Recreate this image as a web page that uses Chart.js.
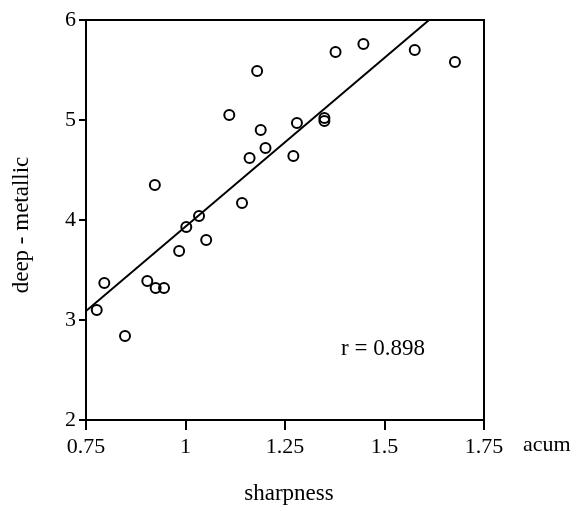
<!DOCTYPE html>
<html>
<head>
<meta charset="utf-8">
<script src="https://cdn.jsdelivr.net/npm/chart.js@4"></script>
<style>
  html, body { margin: 0; padding: 0; background: #fff; }
  #wrap { width: 577px; height: 511px; position: relative; }
</style>
</head>
<body>
<div id="wrap"><canvas id="c" width="577" height="511"></canvas></div>
<script>
// ---- data ----
const sharpness = [0.777, 0.796, 0.848, 0.904, 0.925, 0.946, 0.923, 0.984, 1.002, 1.034, 1.052, 1.110, 1.142, 1.161, 1.180, 1.189, 1.201, 1.271, 1.280, 1.349, 1.349, 1.377, 1.447, 1.576, 1.677];
const deepMetallic = [3.10, 3.37, 2.84, 3.39, 3.32, 3.32, 4.35, 3.69, 3.93, 4.04, 3.80, 5.05, 4.17, 4.62, 5.49, 4.90, 4.72, 4.64, 4.97, 5.02, 4.99, 5.68, 5.76, 5.70, 5.58];
const fitX = [0.75, 1.612];
const fitY = [3.09, 6.0];
const xTickLabels = ["0.75", "1", "1.25", "1.5", "1.75"];
const yTickLabels = ["2", "3", "4", "5", "6"];
const rText = "r = 0.898";
const xTitle = "sharpness";
const yTitle = "deep - metallic";
const xUnit = "acum";

const FONT = "'Liberation Serif', 'Times New Roman', serif";

const points = sharpness.map((x, i) => ({ x: x, y: deepMetallic[i] }));
const fitLine = fitX.map((x, i) => ({ x: x, y: fitY[i] }));

const extras = {
  id: 'extras',
  afterDraw(chart) {
    const ctx = chart.ctx;
    const a = chart.chartArea;
    ctx.save();
    // box top and right
    ctx.strokeStyle = '#000';
    ctx.lineWidth = 2;
    ctx.beginPath();
    ctx.moveTo(a.left, a.top);
    ctx.lineTo(a.right, a.top);
    ctx.lineTo(a.right, a.bottom);
    ctx.stroke();
    ctx.fillStyle = '#000';
    ctx.font = '23px ' + FONT;
    ctx.textBaseline = 'alphabetic';
    // r value
    ctx.textAlign = 'center';
    ctx.fillText(rText, 383, 355);
    // x title
    ctx.fillText(xTitle, 289, 500);
    // unit
    ctx.textAlign = 'left';
    ctx.font = '22px ' + FONT;
    ctx.fillText(xUnit, 523, 451);
    // y title
    ctx.font = '23px ' + FONT;
    ctx.translate(28, 225);
    ctx.rotate(-Math.PI / 2);
    ctx.textAlign = 'center';
    ctx.fillText(yTitle, 0, 0);
    ctx.restore();
  }
};

new Chart(document.getElementById('c'), {
  type: 'scatter',
  data: {
    datasets: [
      {
        label: 'data',
        data: points,
        pointStyle: 'circle',
        pointRadius: 5,
        pointBorderWidth: 2,
        pointBorderColor: '#000',
        pointBackgroundColor: 'rgba(0,0,0,0)',
        showLine: false,
        order: 1
      },
      {
        label: 'fit',
        data: fitLine,
        showLine: true,
        borderColor: '#000',
        borderWidth: 2,
        pointRadius: 0,
        order: 2
      }
    ]
  },
  plugins: [extras],
  options: {
    responsive: false,
    animation: false,
    devicePixelRatio: 1,
    layout: { padding: { top: 20, right: 93, left: 0, bottom: 0 } },
    plugins: {
      legend: { display: false },
      tooltip: { enabled: false }
    },
    scales: {
      x: {
        type: 'linear',
        min: 0.75,
        max: 1.75,
        afterBuildTicks(scale) {
          scale.ticks = xTickLabels.map(t => ({ value: parseFloat(t) }));
        },
        afterFit(scale) { scale.height = 91; },
        ticks: {
          color: '#000',
          font: { family: FONT, size: 22 },
          padding: 4,
          maxRotation: 0,
          autoSkip: false,
          callback: (v, i) => xTickLabels[i]
        },
        grid: { drawOnChartArea: false, drawTicks: true, tickLength: 10, color: '#000', lineWidth: 2 },
        border: { display: true, color: '#000', width: 2 }
      },
      y: {
        type: 'linear',
        min: 2,
        max: 6,
        afterBuildTicks(scale) {
          scale.ticks = yTickLabels.map(t => ({ value: parseFloat(t) }));
        },
        afterFit(scale) { scale.width = 86; },
        ticks: {
          color: '#000',
          font: { family: FONT, size: 22 },
          padding: 3,
          autoSkip: false,
          callback: (v, i) => yTickLabels[i]
        },
        grid: { drawOnChartArea: false, drawTicks: true, tickLength: 7, color: '#000', lineWidth: 2 },
        border: { display: true, color: '#000', width: 2 }
      }
    }
  }
});
</script>
</body>
</html>
